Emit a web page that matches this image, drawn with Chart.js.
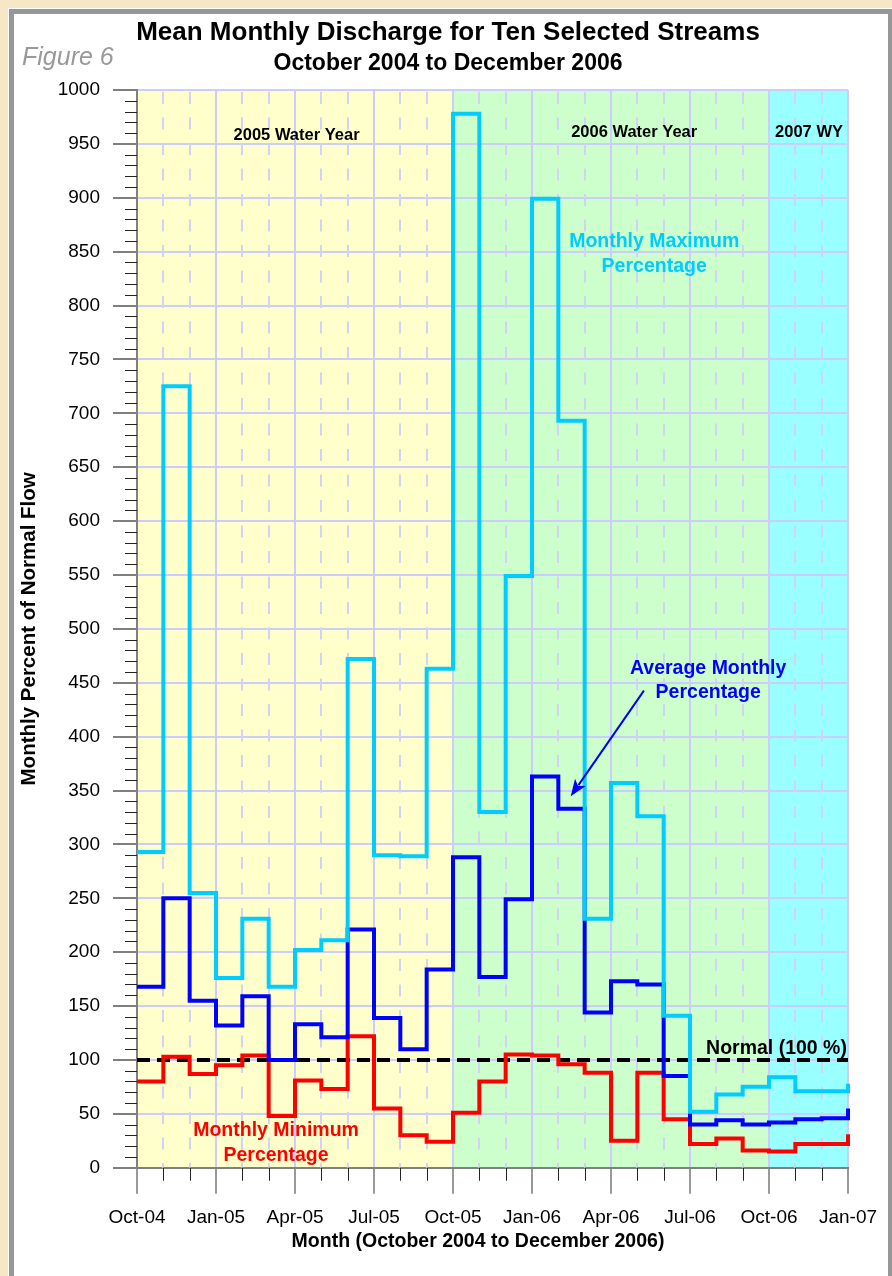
<!DOCTYPE html>
<html>
<head>
<meta charset="utf-8">
<title>Mean Monthly Discharge for Ten Selected Streams</title>
<script src="https://cdn.jsdelivr.net/npm/chart.js@4.4.1/dist/chart.umd.min.js"></script>
<style>
  html, body { margin: 0; padding: 0; }
  body { width: 892px; height: 1276px; background: #f6e8c6; position: relative; overflow: hidden; }
  #panel {
    position: absolute; left: 9px; top: 9px; width: 874px; height: 1280px;
    background: #fff; border: 5px solid #979797; border-bottom: none;
    box-shadow: 0 0 0 1px #fff;
  }
  #chart { position: absolute; left: 0; top: 0; }
</style>
</head>
<body>
<div id="panel"></div>
<canvas id="chart" width="892" height="1276"></canvas>
<script>
// months, Oct 2004 .. Jan 2007 (last point only closes the step)
const months = ["Oct-04", "Nov-04", "Dec-04", "Jan-05", "Feb-05", "Mar-05", "Apr-05", "May-05",
    "Jun-05", "Jul-05", "Aug-05", "Sep-05", "Oct-05", "Nov-05", "Dec-05", "Jan-06", "Feb-06",
    "Mar-06", "Apr-06", "May-06", "Jun-06", "Jul-06", "Aug-06", "Sep-06", "Oct-06", "Nov-06",
    "Dec-06", "Jan-07"];

const maxPct = [293, 725, 255, 176, 231, 168, 202, 211, 472, 290, 289, 463, 978, 330, 549, 899,
    693, 231, 357, 326, 141, 52, 68, 75, 84, 71, 71, 78];
const avgPct = [168, 250, 155, 132, 159, 100, 133, 121, 221, 139, 110, 184, 288, 177, 249, 363,
    333, 144, 173, 170, 85, 40, 44, 40, 42, 45, 46, 55];
const minPct = [80, 103, 87, 95, 104, 48, 81, 73, 122, 55, 30, 24, 51, 80, 105, 104, 96, 88, 25,
    88, 45, 22, 27, 16, 15, 22, 22, 31];
const normalLevel = 100;

// water year bands: [first month, last month, colour]
const waterYears = [
    ["Oct-04", "Oct-05", "#ffffcc"],
    ["Oct-05", "Oct-06", "#ccffcc"],
    ["Oct-06", "Jan-07", "#99ffff"],
];

const FONT = "'Liberation Sans', Arial, Helvetica, sans-serif";

// text notes placed in data units (x = month index, y = percent, first baseline)
const notes = [
    { lines: ["2005 Water Year"], x: 6.06, y: 953.8, color: "#000", size: 16.5 },
    { lines: ["2006 Water Year"], x: 18.88, y: 956.3, color: "#000", size: 16.5 },
    { lines: ["2007 WY"], x: 25.52, y: 956.3, color: "#000", size: 16.5 },
    { lines: ["Monthly Maximum", "Percentage"], x: 19.64, y: 853.9, color: "#00ccff", size: 19.5 },
    { lines: ["Average Monthly", "Percentage"], x: 21.69, y: 458.5, color: "#0000ff", size: 19.5 },
    { lines: ["Monthly Minimum", "Percentage"], x: 5.28, y: 29.4, color: "#ff0000", size: 19.5 },
    { lines: ["Normal (100 %)"], x: 26.96, y: 105.6, color: "#000", size: 19.5, align: "right" },
];
const arrow = { from: [19.25, 442.7], to: [16.47, 344.6], color: "#0000ff" };

const decorPlugin = {
    id: "decor",
    beforeDraw(chart) {
        const { ctx, chartArea, scales: { x, y } } = chart;
        ctx.save();
        waterYears.forEach(([a, b, col]) => {
            const x0 = x.getPixelForValue(months.indexOf(a));
            const x1 = x.getPixelForValue(months.indexOf(b));
            ctx.fillStyle = col;
            ctx.fillRect(x0, chartArea.top, x1 - x0, chartArea.bottom - chartArea.top);
        });
        ctx.restore();
    },
    beforeDatasetsDraw(chart) {
        const { ctx, chartArea, scales: { x, y } } = chart;
        ctx.save();
        // dashed monthly grid lines
        ctx.strokeStyle = "#d2d2f4";
        ctx.lineWidth = 2;
        ctx.setLineDash([12, 13.5]);
        for (let i = 1; i < months.length - 1; i++) {
            if (i % 3 === 0) continue;
            const px = Math.round(x.getPixelForValue(i));
            ctx.beginPath();
            ctx.moveTo(px, chartArea.top + 2);
            ctx.lineTo(px, chartArea.bottom);
            ctx.stroke();
        }
        ctx.setLineDash([]);
        // minor ticks
        ctx.strokeStyle = "#222";
        ctx.lineWidth = 1;
        for (let v = 10; v < 1000; v += 10) {
            if (v % 50 === 0) continue;
            const py = Math.round(y.getPixelForValue(v)) + 0.5;
            ctx.beginPath();
            ctx.moveTo(chartArea.left - 12, py);
            ctx.lineTo(chartArea.left, py);
            ctx.stroke();
        }
        for (let i = 1; i < months.length - 1; i++) {
            if (i % 3 === 0) continue;
            const px = Math.round(x.getPixelForValue(i)) + 0.5;
            ctx.beginPath();
            ctx.moveTo(px, chartArea.bottom);
            ctx.lineTo(px, chartArea.bottom + 13);
            ctx.stroke();
        }
        ctx.restore();
    },
    afterDraw(chart) {
        const { ctx, scales: { x, y } } = chart;
        ctx.save();
        ctx.textBaseline = "alphabetic";

        // headings
        ctx.fillStyle = "#000";
        ctx.textAlign = "center";
        ctx.font = "bold 26px " + FONT;
        ctx.fillText("Mean Monthly Discharge for Ten Selected Streams", 448, 39.5);
        ctx.font = "bold 23px " + FONT;
        ctx.fillText("October 2004 to December 2006", 448, 69.5);
        ctx.font = "bold 19.5px " + FONT;
        ctx.fillText("Month (October 2004 to December 2006)", 478, 1247);
        ctx.textAlign = "left";
        ctx.fillStyle = "#999";
        ctx.font = "italic 25px " + FONT;
        ctx.fillText("Figure 6", 22, 64.5);

        // notes
        notes.forEach(n => {
            ctx.fillStyle = n.color;
            ctx.textAlign = n.align || "center";
            ctx.font = "bold " + n.size + "px " + FONT;
            const px = x.getPixelForValue(n.x);
            const py = y.getPixelForValue(n.y);
            n.lines.forEach((t, k) => ctx.fillText(t, px, py + k * 24.5));
        });

        // arrow to the average line
        const ax0 = x.getPixelForValue(arrow.from[0]), ay0 = y.getPixelForValue(arrow.from[1]);
        const ax1 = x.getPixelForValue(arrow.to[0]), ay1 = y.getPixelForValue(arrow.to[1]);
        const ang = Math.atan2(ay1 - ay0, ax1 - ax0);
        const hl = 17, hw = 6.5;
        ctx.strokeStyle = arrow.color;
        ctx.fillStyle = arrow.color;
        ctx.lineWidth = 2;
        ctx.beginPath();
        ctx.moveTo(ax0, ay0);
        ctx.lineTo(ax1 - Math.cos(ang) * hl * 0.8, ay1 - Math.sin(ang) * hl * 0.8);
        ctx.stroke();
        ctx.beginPath();
        ctx.moveTo(ax1, ay1);
        ctx.lineTo(ax1 - Math.cos(ang) * hl + Math.sin(ang) * hw, ay1 - Math.sin(ang) * hl - Math.cos(ang) * hw);
        ctx.lineTo(ax1 - Math.cos(ang) * hl * 0.75, ay1 - Math.sin(ang) * hl * 0.75);
        ctx.lineTo(ax1 - Math.cos(ang) * hl - Math.sin(ang) * hw, ay1 - Math.sin(ang) * hl + Math.cos(ang) * hw);
        ctx.closePath();
        ctx.fill();
        ctx.restore();
    },
};

const stepLine = (label, data, color) => ({
    label: label,
    data: data,
    borderColor: color,
    borderWidth: 4,
    stepped: "before",
    pointRadius: 0,
    fill: false,
    borderJoinStyle: "miter",
});

const chart = new Chart(document.getElementById("chart").getContext("2d"), {
    type: "line",
    data: {
        labels: months,
        datasets: [
            stepLine("Monthly Maximum Percentage", maxPct, "#00ccff"),
            stepLine("Average Monthly Percentage", avgPct, "#0000ff"),
            stepLine("Monthly Minimum Percentage", minPct, "#ff0000"),
            {
                label: "Normal (100 %)",
                data: [{ x: months[0], y: normalLevel }, { x: months[months.length - 1], y: normalLevel }],
                borderColor: "#000",
                borderWidth: 4,
                borderDash: [13, 7],
                pointRadius: 0,
                fill: false,
            },
        ],
    },
    options: {
        responsive: false,
        animation: false,
        layout: { padding: { top: 90, right: 44, bottom: 0, left: 0 } },
        plugins: {
            legend: { display: false },
            tooltip: { enabled: false },
        },
        scales: {
            x: {
                type: "category",
                offset: false,
                afterFit(scale) { scale.height = 108.3; },
                grid: {
                    color: ctx => (ctx.index % 3 === 0 ? "#ccccff" : "rgba(0,0,0,0)"),
                    lineWidth: 2,
                    tickLength: 26,
                    tickColor: ctx => (ctx.index % 3 === 0 ? "#777" : "rgba(0,0,0,0)"),
                    tickWidth: 1.5,
                    offset: false,
                },
                border: { color: "#808080", width: 2 },
                ticks: {
                    autoSkip: false,
                    maxRotation: 0,
                    minRotation: 0,
                    padding: 13,
                    color: "#000",
                    font: { family: FONT, size: 19 },
                    callback(value, index) {
                        return index % 3 === 0 ? this.getLabelForValue(value) : "";
                    },
                },
            },
            y: {
                min: 0,
                max: 1000,
                afterFit(scale) { scale.width = 137; },
                grid: {
                    color: "#ccccff",
                    lineWidth: 2,
                    tickLength: 24,
                    tickColor: "#555",
                    tickWidth: 1.5,
                },
                border: { color: "#808080", width: 2 },
                ticks: {
                    stepSize: 50,
                    padding: 13,
                    color: "#000",
                    font: { family: FONT, size: 19 },
                    callback: value => String(value),
                },
                title: {
                    display: true,
                    text: "Monthly Percent of Normal Flow",
                    color: "#000",
                    font: { family: FONT, size: 20.5, weight: "bold" },
                    padding: { top: 16.7, bottom: 0 },
                },
            },
        },
    },
    plugins: [decorPlugin],
});
</script>
</body>
</html>
